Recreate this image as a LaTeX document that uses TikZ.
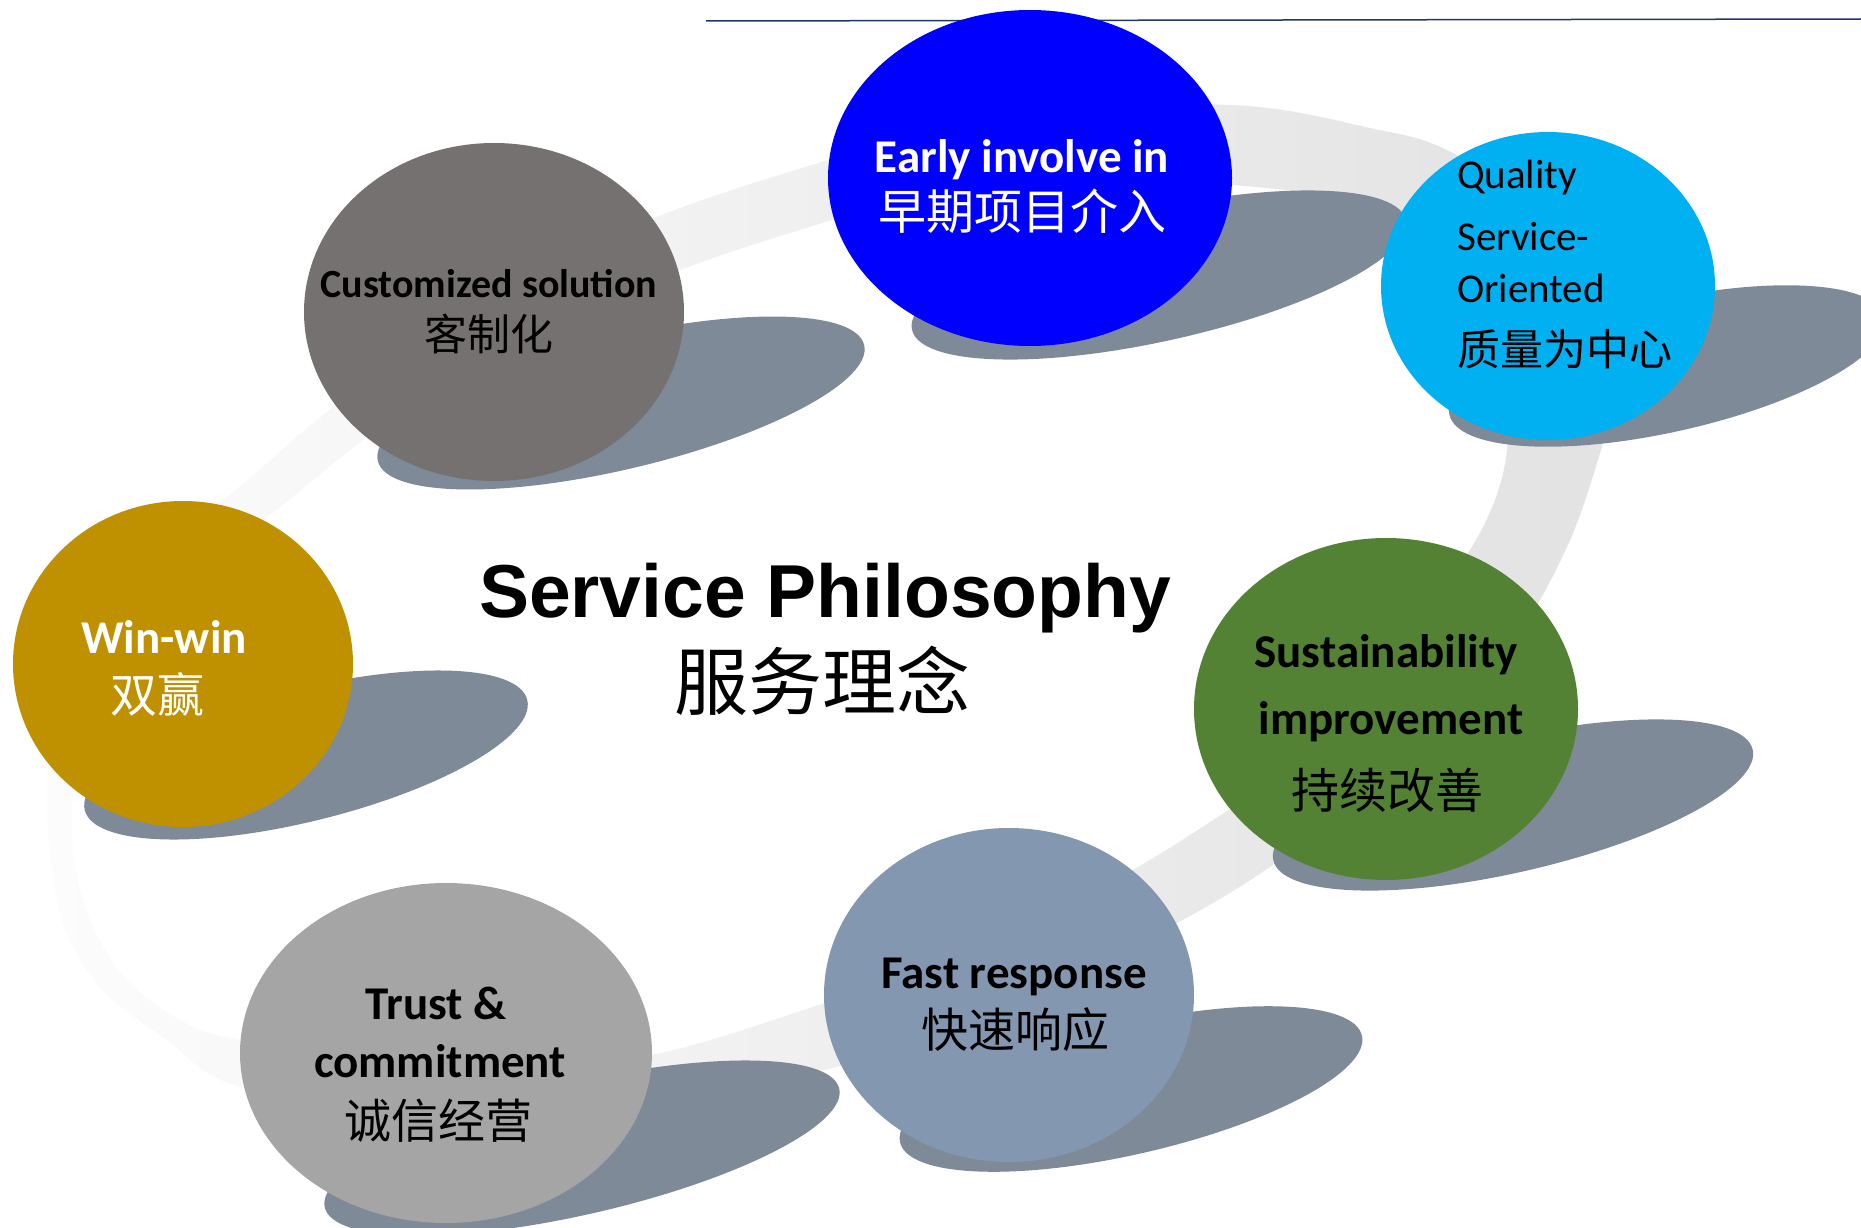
\documentclass[tikz,border=0pt]{standalone}
\usepackage{fontspec}
\setmainfont{Carlito}
\newfontfamily\cjk{Noto Sans CJK SC}
\newfontfamily\arialf{Liberation Sans}
\usetikzlibrary{shapes.geometric}
\definecolor{cBlue}{RGB}{0,0,255}
\definecolor{cCust}{RGB}{118,113,113}
\definecolor{cCyan}{RGB}{0,176,240}
\definecolor{cGold}{RGB}{191,144,0}
\definecolor{cGreen}{RGB}{84,130,53}
\definecolor{cFast}{RGB}{132,151,176}
\definecolor{cTrust}{RGB}{165,165,165}
\definecolor{cShadow}{RGB}{127,138,153}
\definecolor{cLine}{RGB}{31,56,100}
\definecolor{bandL}{RGB}{252,252,252}
\definecolor{bandR}{RGB}{226,226,226}
\tikzset{
  bubble/.style={ellipse, inner sep=0pt, draw=none},
  shadowfill/.style={fill=cShadow},
  lat/.style={font=\bfseries\fontsize{47}{56}\selectfont, anchor=base, inner sep=0pt},
  han/.style={font=\cjk\fontsize{48}{56}\selectfont, anchor=base, inner sep=0pt},
}
\begin{document}
\begin{tikzpicture}[x=1pt,y=1pt]
\useasboundingbox (0,0) rectangle (1861,-1228);
\clip (0,0) rectangle (1861,-1228);
\fill[white] (0,0) rectangle (1861,-1228);

% top rule
\coordinate (lineA) at (706,-21);
\coordinate (lineB) at (1861,-19);
\draw[cLine, line width=1.5pt] (lineA) -- (lineB);

% background ring
\shade[even odd rule, left color=bandL, right color=bandR]
  plot[smooth cycle, tension=0.55] coordinates {
    (1000,-112) (1232,-105) (1370,-128) (1453,-153) (1590,-240) (1630,-340)
    (1607,-430) (1567,-547) (1500,-660) (1380,-780) (1280,-860) (1177,-923)
    (1000,-1010) (825,-1070) (652,-1100) (450,-1125) (240,-1087) (167,-1040)
    (100,-987) (60,-913) (47,-780) (70,-640) (130,-560) (223,-500) (333,-407)
    (480,-300) (654,-218) (828,-160)}
  plot[smooth cycle, tension=0.55] coordinates {
    (1000,-172) (1232,-185) (1330,-200) (1430,-250) (1490,-340) (1508,-437)
    (1483,-527) (1400,-650) (1300,-760) (1213,-820) (1133,-870) (1000,-945)
    (825,-1003) (652,-1055) (450,-1080) (240,-1040) (187,-1024) (127,-980)
    (87,-913) (72,-830) (85,-720) (150,-600) (267,-517) (367,-437) (500,-345)
    (680,-270) (832,-220)};

% shadows
\fill[shadowfill, shift={(1159,-275)}, rotate=12.5] (0,0) ellipse [x radius=253, y radius=66];
\fill[shadowfill, shift={(621,-403)}, rotate=13.4] (0,0) ellipse [x radius=250, y radius=66];
\fill[shadowfill, shift={(1667,-366)}, rotate=12.6] (0,0) ellipse [x radius=223, y radius=66];
\fill[shadowfill, shift={(306,-755)}, rotate=14] (0,0) ellipse [x radius=228, y radius=66];
\fill[shadowfill, shift={(1513,-805)}, rotate=13] (0,0) ellipse [x radius=246, y radius=67];
\fill[shadowfill, shift={(1131,-1089)}, rotate=13] (0,0) ellipse [x radius=237, y radius=65];
\fill[shadowfill, shift={(582,-1148)}, rotate=13] (0,0) ellipse [x radius=264, y radius=66];

% bubbles
\node[bubble, fill=cBlue, minimum width=404, minimum height=336] (early) at (1030,-178) {};
\node[bubble, fill=cCust, minimum width=380, minimum height=338] (cust) at (494,-312) {};
\node[bubble, fill=cCyan, minimum width=334, minimum height=308] (qual) at (1548,-286) {};
\node[bubble, fill=cGold, minimum width=340, minimum height=326] (win) at (183,-664) {};
\node[bubble, fill=cGreen, minimum width=384, minimum height=342] (sust) at (1386,-709) {};
\node[bubble, fill=cFast, minimum width=370, minimum height=334] (fast) at (1009,-995) {};
\node[bubble, fill=cTrust, minimum width=412, minimum height=340] (trust) at (446,-1053) {};

% title
\node[font=\arialf\bfseries\fontsize{75}{80}\selectfont, anchor=base, inner sep=0pt] (title) at (825,-617) {Service Philosophy};
\node[font=\cjk\fontsize{74}{80}\selectfont, anchor=base, inner sep=0pt] (titlecn) at (822,-709) {服务理念};

% texts
\node[lat, text=white] (earlyA) at (1022,-172) {Early involve in};
\node[han, text=white] (earlyB) at (1022,-229) {早期项目介入};

\node[lat, font=\bfseries\fontsize{40}{48}\selectfont] (custA) at (489,-297) {Customized solution};
\node[han, font=\cjk\fontsize{43}{48}\selectfont] (custB) at (489,-350) {客制化};

\node[font=\fontsize{41}{50}\selectfont, anchor=base west, inner sep=0pt] (qualA) at (1457,-188) {Quality};
\node[font=\fontsize{41}{50}\selectfont, anchor=base west, inner sep=0pt] (qualB) at (1457,-250) {Service-};
\node[font=\fontsize{41}{50}\selectfont, anchor=base west, inner sep=0pt] (qualC) at (1457,-302) {Oriented};
\node[font=\cjk\fontsize{43}{50}\selectfont, anchor=base west, inner sep=0pt] (qualD) at (1457,-365) {质量为中心};

\node[lat, text=white] (winA) at (164,-653) {Win-win};
\node[han, text=white, font=\cjk\fontsize{47}{56}\selectfont] (winB) at (157,-712) {双赢};

\node[lat] (sustA) at (1386,-667) {Sustainability};
\node[lat] (sustB) at (1391,-734) {improvement};
\node[han] (sustC) at (1387,-808) {持续改善};

\node[lat] (fastA) at (1014,-988) {Fast response};
\node[han, font=\cjk\fontsize{47}{56}\selectfont] (fastB) at (1015,-1047) {快速响应};

\node[lat] (trustA) at (436,-1019) {Trust \&};
\node[lat] (trustB) at (440,-1077) {commitment};
\node[han, font=\cjk\fontsize{47}{56}\selectfont] (trustC) at (438,-1138) {诚信经营};
\end{tikzpicture}
\end{document}
